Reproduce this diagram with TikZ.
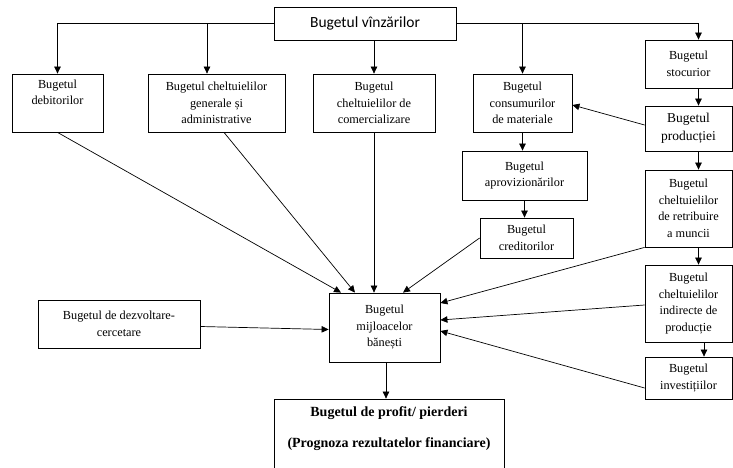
\documentclass[tikz,border=0pt]{standalone}
\usepackage{fontspec}
\setmainfont{Liberation Serif}
\newfontfamily\headfont{Carlito}
\usetikzlibrary{arrows.meta}

\begin{document}
\begin{tikzpicture}[x=1pt, y=-1pt,
  box/.style={draw=black, line width=0.8pt, align=center, inner sep=0pt,
    font=\fontsize{12.3}{16.5}\selectfont},
  headbox/.style={box, font=\headfont\fontsize{15.5}{18}\selectfont},
  flow/.style={draw=black, line width=0.7pt, -{Triangle[length=7pt, width=6.5pt]}},
]
\useasboundingbox (0,0) rectangle (733,468);

% top row
\node[headbox, minimum width=182pt, minimum height=33pt] (vanz) at (365,23.5) {Bugetul vînzărilor};
\node[box, minimum width=91pt,  minimum height=58pt] (deb)  at (57.5,103)  {Bugetul\\debitorilor\\\strut};
\node[box, minimum width=137pt, minimum height=58pt] (gen)  at (216.5,103) {Bugetul cheltuielilor\\generale și\\administrative};
\node[box, minimum width=122pt, minimum height=58pt] (com)  at (374,103)   {Bugetul\\cheltuielilor de\\comercializare};
\node[box, minimum width=99pt,  minimum height=58pt] (cons) at (522.5,103) {Bugetul\\consumurilor\\de materiale};

% right column
\node[box, minimum width=87pt, minimum height=48pt] (stoc) at (688.5,64)    {Bugetul\\stocurior};
\node[box, minimum width=87pt, minimum height=45pt,
  font=\fontsize{13.5}{18}\selectfont]             (prod) at (688.5,128.5) {Bugetul\\producției};
\node[box, minimum width=87pt, minimum height=77pt] (retr) at (688.5,208.5) {Bugetul\\cheltuielilor\\de retribuire\\a muncii};
\node[box, minimum width=87pt, minimum height=77pt] (ind)  at (688.5,303.5) {Bugetul\\cheltuielilor\\indirecte de\\producție};
\node[box, minimum width=87pt, minimum height=42pt] (inv)  at (688.5,378)   {Bugetul\\investițiilor};

% middle
\node[box, minimum width=125pt, minimum height=49pt] (aprov) at (524.5,175.5) {Bugetul\\aprovizionărilor};
\node[box, minimum width=93pt,  minimum height=40pt] (cred)  at (526.5,238)   {Bugetul\\creditorilor};
\node[box, minimum width=111pt, minimum height=69pt] (mij)   at (384.5,327.5) {Bugetul\\mijloacelor\\bănești};
\node[box, minimum width=162pt, minimum height=48pt] (dez)   at (119,324)     {Bugetul de dezvoltare-\\cercetare};
\node[box, minimum width=230pt, minimum height=90pt,
  font=\bfseries\fontsize{14}{16.5}\selectfont]      (prof)  at (389,444)
  {\strut Bugetul de profit/ pierderi\\[14.5pt](Prognoza rezultatelor financiare)\\[14.5pt]\strut};

% from the sales budget
\coordinate (genin) at ([xshift=-9.5pt]gen.north);
\draw[flow] (vanz.west) -| (deb.north);
\draw[flow] (vanz.west -| genin) -- (genin);
\draw[flow] (vanz.south -| com.north) -- (com.north);
\draw[flow] (vanz.east -| cons.north) -- (cons.north);
\draw[flow] (vanz.east) -| ([xshift=10pt]stoc.north);

% right column chain
\draw[flow] ([xshift=10pt]stoc.south) -- ([xshift=10pt]prod.north);
\draw[flow] ([xshift=10pt]prod.south) -- ([xshift=10pt]retr.north);
\draw[flow] ([xshift=10pt]retr.south) -- ([xshift=10pt]ind.north);
\draw[flow] ([xshift=15.5pt]ind.south) -- ([xshift=15.5pt]inv.north);
\draw[flow] ([yshift=3.5pt]prod.west) -- ([yshift=-2pt]cons.east);

% materials chain
\draw[flow] (cons.south) -- (cons.south |- aprov.north);
\draw[flow] (aprov.south) -- (aprov.south |- cred.north);

% into the cash budget
\draw[flow] (deb.south) -- ([xshift=-43.5pt]mij.north);
\draw[flow] ([xshift=7.5pt]gen.south) -- ([xshift=-29.5pt]mij.north);
\draw[flow] (com.south) -- (com.south |- mij.north);
\draw[flow] (cred.west) -- ([xshift=18.5pt]mij.north);
\draw[flow] (retr.south west) -- ([yshift=24.5pt]mij.east);
\draw[flow] ([yshift=-1.5pt]ind.west) -- ([yshift=7.5pt]mij.east);
\draw[flow] ([yshift=-10pt]inv.west) -- ([yshift=-3.5pt]mij.east);
\draw[flow] ([yshift=-2.5pt]dez.east) -- ([yshift=-2pt]mij.west);
\draw[flow] ([xshift=1.5pt]mij.south) -- ([xshift=1.5pt]mij.south |- prof.north);
\end{tikzpicture}
\end{document}
